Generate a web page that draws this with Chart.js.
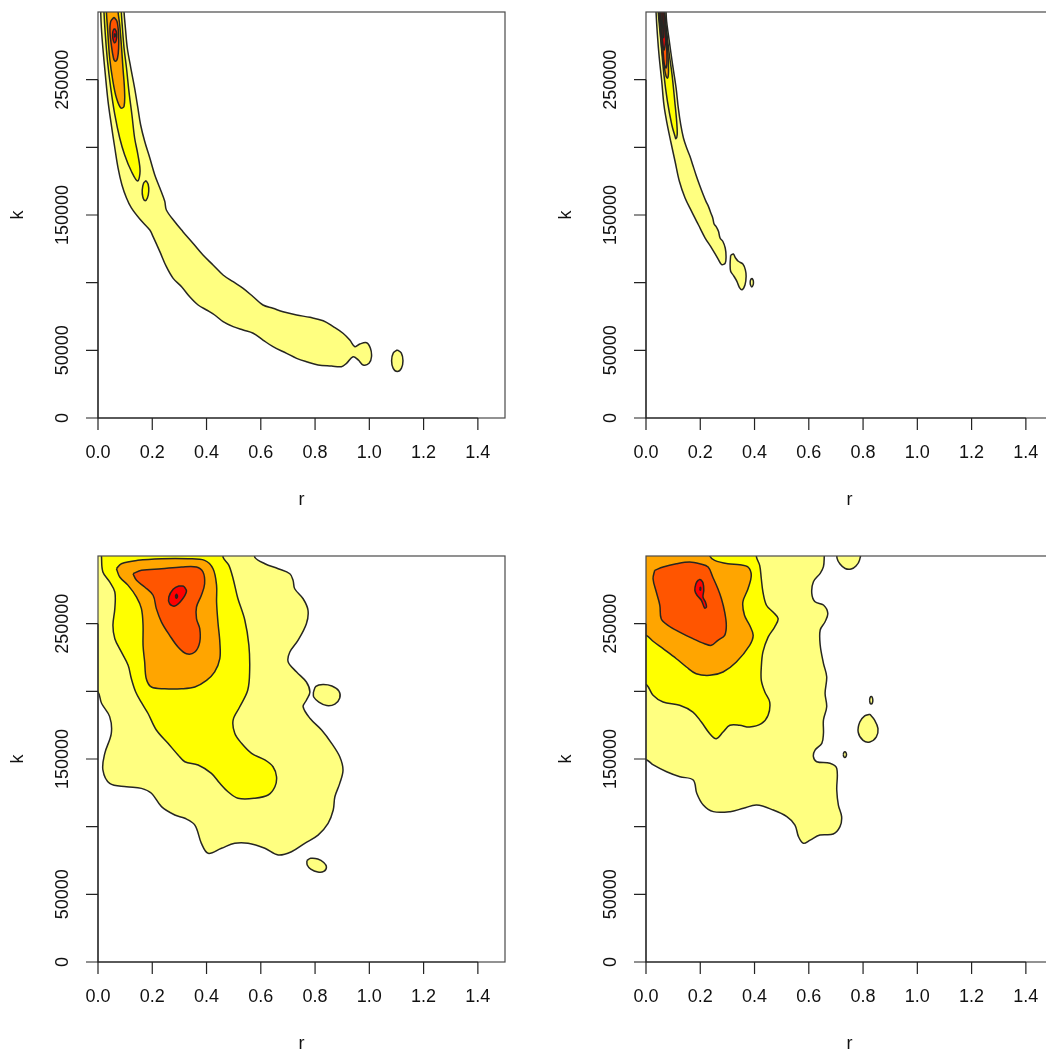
<!DOCTYPE html>
<html>
<head>
<meta charset="utf-8">
<title>r / k density contours</title>
<script src="https://cdn.jsdelivr.net/npm/chart.js@4.4.1/dist/chart.umd.min.js"></script>
<style>
  html, body { margin: 0; padding: 0; background: #fff; overflow: hidden; }
  #sheet { position: relative; width: 1046px; height: 1053px; overflow: hidden; }
  #sheet canvas { position: absolute; }
</style>
</head>
<body>
<div id="sheet">
  <canvas id="c1" width="548" height="544" style="left:0;top:0"></canvas>
  <canvas id="c2" width="548" height="544" style="left:548px;top:0"></canvas>
  <canvas id="c3" width="548" height="544" style="left:0;top:544px"></canvas>
  <canvas id="c4" width="548" height="544" style="left:548px;top:544px"></canvas>
</div>
<script>
// ── Axes ─────────────────────────────────────────────────────────────────────
const R_TICKS  = [0, 0.2, 0.4, 0.6, 0.8, 1.0, 1.2, 1.4];
const R_LABELS = ["0.0", "0.2", "0.4", "0.6", "0.8", "1.0", "1.2", "1.4"];
const K_TICKS  = [0, 50000, 100000, 150000, 200000, 250000];
const K_LABELS = [0, 50000, 150000, 250000];   // R drops the ones that would overlap
const R_RANGE  = [0, 1.5];
const K_RANGE  = [0, 300000];

// fill per contour level, lowest density first
const LEVEL_COLORS = ["#ffff80", "#ffff00", "#ffa500", "#ff5500", "#ff0000", "#8b0000"];

// ── Contours: [r, k] rings (k above 300000 / r below 0 run off the plot) ─────
// top left
const tlBand = [[0.010,305000],[0.010,300000],[0.0125,288200],[0.018,273400],[0.027,253700],[0.037,234000],[0.049,216700],[0.062,199500],[0.074,184700],[0.088,172400],[0.105,162600],[0.123,155200],[0.154,147000],[0.191,138900],[0.203,134000],[0.228,122900],[0.252,111800],[0.277,103200],[0.308,97000],[0.338,89600],[0.369,83500],[0.400,79800],[0.430,76100],[0.461,71200],[0.498,67500],[0.535,65000],[0.572,62600],[0.608,57600],[0.645,52700],[0.695,47800],[0.732,44100],[0.768,41600],[0.811,39200],[0.861,38400],[0.897,37900],[0.916,40400],[0.940,45300],[0.959,42900],[0.977,39200],[0.999,40400],[1.008,45300],[1.004,51500],[0.990,55600],[0.965,54700],[0.947,52700],[0.928,57600],[0.903,62600],[0.867,67500],[0.830,71900],[0.781,74400],[0.732,76100],[0.682,78500],[0.645,81100],[0.608,83500],[0.572,89600],[0.535,95800],[0.498,100700],[0.461,105700],[0.424,113100],[0.387,120400],[0.350,129100],[0.313,137700],[0.283,145000],[0.252,153700],[0.246,160100],[0.228,169900],[0.209,179800],[0.191,192100],[0.172,204500],[0.157,216700],[0.147,229100],[0.135,243800],[0.121,258600],[0.108,273400],[0.101,288200],[0.096,300000],[0.096,305000]];
const tlIsle = [[1.103,50300],[1.118,48000],[1.124,42300],[1.118,36600],[1.103,34300],[1.088,36600],[1.082,42300],[1.088,48000]];
const tlInner = [[0.022,305000],[0.022,300000],[0.027,283200],[0.035,263600],[0.047,243800],[0.062,224100],[0.080,206900],[0.098,194600],[0.123,182300],[0.146,175100],[0.155,182300],[0.147,194600],[0.135,206900],[0.125,224100],[0.114,241400],[0.105,258600],[0.096,273400],[0.090,288200],[0.086,300000],[0.086,305000]];
const tlSpeck = [[0.177,175400],[0.185,172500],[0.187,167500],[0.182,162500],[0.173,160600],[0.165,163500],[0.163,168500],[0.168,173500]];
const tlMid = [[0.031,305000],[0.031,300000],[0.035,288200],[0.043,266000],[0.055,248800],[0.068,236400],[0.084,229100],[0.096,230300],[0.098,241400],[0.092,258600],[0.086,275800],[0.080,290600],[0.074,300000],[0.074,305000]];
const tlCore = [[0.059,296100],[0.070,293100],[0.076,283200],[0.076,273400],[0.072,266000],[0.064,263600],[0.057,266000],[0.049,275800],[0.044,285700],[0.047,293100]];
const tlPeak = [[0.062,287700],[0.068,285200],[0.069,281300],[0.065,277800],[0.060,277300],[0.055,280300],[0.054,284500],[0.057,286900]];
const tlDot = [[0.060,282800],[0.062,284000],[0.064,282800],[0.062,281600]];

// top right
const trBand = [[0.037,305000],[0.037,300000],[0.042,283200],[0.049,266000],[0.058,248800],[0.066,231500],[0.076,219200],[0.091,204500],[0.107,189700],[0.123,174900],[0.144,162600],[0.168,152700],[0.193,142800],[0.218,133000],[0.242,125600],[0.267,117000],[0.279,113300],[0.292,114500],[0.295,119500],[0.292,125600],[0.283,130600],[0.273,133000],[0.267,138000],[0.258,141600],[0.251,143300],[0.246,147800],[0.239,151500],[0.230,156400],[0.221,160100],[0.211,165000],[0.197,172400],[0.184,179800],[0.172,187200],[0.162,193400],[0.150,199500],[0.138,206900],[0.128,216700],[0.119,229100],[0.111,243800],[0.098,261100],[0.086,278300],[0.076,293100],[0.074,300000],[0.074,305000]];
const trBlob = [[0.312,120200],[0.322,121200],[0.330,118200],[0.340,115800],[0.357,113800],[0.366,109600],[0.369,104700],[0.365,98500],[0.354,94800],[0.344,96600],[0.335,101000],[0.322,105400],[0.312,108400],[0.310,113800]];
const trSpeck = [[0.390,103400],[0.395,101800],[0.396,100100],[0.395,98400],[0.390,96800],[0.385,98400],[0.384,100100],[0.385,101800]];
const trInner = [[0.045,305000],[0.045,300000],[0.055,278300],[0.066,253700],[0.079,234000],[0.095,216700],[0.107,208100],[0.110,206400],[0.115,209300],[0.113,219200],[0.106,234000],[0.096,253700],[0.086,268400],[0.076,285700],[0.069,300000],[0.069,305000]];
const trMid = [[0.048,305000],[0.048,300000],[0.052,288200],[0.058,273400],[0.066,261100],[0.074,252500],[0.080,251200],[0.083,256200],[0.081,268400],[0.076,283200],[0.066,300000],[0.066,305000]];
const trCore = [[0.052,305000],[0.052,300000],[0.055,288200],[0.062,273400],[0.067,262300],[0.074,258600],[0.077,262300],[0.076,275800],[0.071,290600],[0.064,300000],[0.064,305000]];
const trPeak = [[0.055,305000],[0.055,300000],[0.057,290400],[0.061,279300],[0.066,271900],[0.072,277800],[0.070,290400],[0.068,300000],[0.068,305000]];
const trTip = [[0.059,305000],[0.059,300000],[0.062,288000],[0.065,281000],[0.067,290000],[0.066,300000],[0.066,305000]];

// bottom left
const blOuter = [[-0.02,305000],[0.578,305000],[0.578,299000],[0.615,294300],[0.664,290600],[0.707,286900],[0.719,282000],[0.725,275800],[0.756,268400],[0.774,259900],[0.768,250000],[0.737,237700],[0.707,229100],[0.701,221700],[0.732,214300],[0.768,206900],[0.781,199500],[0.768,193400],[0.756,188600],[0.781,180100],[0.824,171400],[0.861,161600],[0.891,151700],[0.903,141900],[0.891,132000],[0.873,122100],[0.867,112300],[0.848,102500],[0.811,93800],[0.762,87700],[0.713,81500],[0.664,79100],[0.615,84000],[0.553,87700],[0.504,87700],[0.455,84000],[0.406,80300],[0.381,87700],[0.357,101200],[0.320,106200],[0.283,108600],[0.234,114800],[0.197,124700],[0.160,128300],[0.105,129500],[0.043,132000],[0.018,141900],[0.025,154200],[0.049,169000],[0.043,181300],[0.013,191200],[0.000,199500],[-0.02,199500]];
const blIsleA = [[0.794,199500],[0.803,203600],[0.829,205000],[0.862,203900],[0.888,200200],[0.891,195100],[0.873,190600],[0.843,189500],[0.814,192100],[0.795,195800]];
const blIsleB = [[0.770,75000],[0.784,76600],[0.810,76100],[0.832,73500],[0.842,70200],[0.832,66900],[0.810,66500],[0.784,68700],[0.771,71700]];
const blYellow = [[0.013,305000],[0.013,299000],[0.018,288200],[0.043,280800],[0.062,273400],[0.062,261100],[0.055,248800],[0.062,238900],[0.086,229100],[0.111,219200],[0.123,209300],[0.139,199500],[0.161,191400],[0.184,183800],[0.215,171400],[0.258,161600],[0.295,153000],[0.320,148000],[0.369,145600],[0.418,139400],[0.449,132000],[0.479,125800],[0.516,121000],[0.578,121000],[0.627,123400],[0.652,129500],[0.658,136900],[0.645,144300],[0.615,149300],[0.566,154200],[0.529,161600],[0.504,169000],[0.498,178800],[0.522,188400],[0.552,201000],[0.559,215800],[0.556,234200],[0.541,252700],[0.515,269000],[0.498,283200],[0.482,293300],[0.461,299000],[0.461,305000]];
const blOrange = [[0.068,290600],[0.080,284500],[0.111,278300],[0.142,269700],[0.160,261100],[0.166,248800],[0.166,234000],[0.172,221700],[0.178,209300],[0.197,203200],[0.246,201900],[0.308,201900],[0.357,203200],[0.400,208100],[0.430,214300],[0.449,224100],[0.449,236400],[0.442,251200],[0.437,266000],[0.437,278300],[0.424,290600],[0.393,296800],[0.332,298000],[0.234,298000],[0.147,296800],[0.086,294300]];
const blRed = [[0.129,286900],[0.142,282000],[0.172,277100],[0.203,271000],[0.215,261100],[0.234,251200],[0.264,241400],[0.295,232800],[0.326,227800],[0.357,229100],[0.375,236400],[0.375,246300],[0.363,253700],[0.363,262300],[0.381,271000],[0.393,279500],[0.387,288200],[0.363,291900],[0.308,291900],[0.234,290600],[0.160,289400]];
const blPeak = [[0.317,277600],[0.326,273900],[0.308,267300],[0.283,263000],[0.264,264700],[0.261,269700],[0.277,275400],[0.298,277800]];
const blDot = [[0.285,270200],[0.289,271700],[0.293,270200],[0.289,268700]];

// bottom right
const brOuter = [[-0.02,305000],[0.657,305000],[0.657,300000],[0.654,292100],[0.642,287200],[0.617,281000],[0.611,272400],[0.623,266200],[0.654,263800],[0.670,257700],[0.660,251400],[0.642,245300],[0.642,234200],[0.654,220700],[0.666,210800],[0.660,198500],[0.666,188600],[0.654,178800],[0.654,169000],[0.648,161600],[0.623,156600],[0.617,151700],[0.629,148000],[0.678,146800],[0.703,143100],[0.703,127100],[0.709,116000],[0.721,107400],[0.715,100000],[0.690,94600],[0.641,93800],[0.605,90100],[0.580,87700],[0.562,92600],[0.549,101200],[0.519,107400],[0.469,112300],[0.408,116000],[0.359,113600],[0.310,111100],[0.248,111100],[0.211,116000],[0.187,124700],[0.174,134500],[0.125,136900],[0.076,140600],[0.027,145600],[0.003,149300],[-0.02,149500]];
const brCap = [[0.704,305000],[0.704,298500],[0.715,294100],[0.734,290800],[0.756,290400],[0.774,292600],[0.787,297000],[0.789,305000]];
const brEgg = [[0.825,183000],[0.843,178600],[0.855,172400],[0.849,166300],[0.825,162600],[0.800,163800],[0.782,169900],[0.788,177300],[0.806,181800]];
const brRingA = [[0.824,193400],[0.826,195500],[0.830,196200],[0.834,195500],[0.836,193400],[0.834,191300],[0.830,190600],[0.826,191300]];
const brRingB = [[0.727,153300],[0.729,154800],[0.733,155400],[0.737,154800],[0.739,153300],[0.737,151800],[0.733,151200],[0.729,151800]];
const brYellow = [[-0.02,305000],[-0.02,206000],[0.003,204700],[0.026,197100],[0.063,192100],[0.124,189700],[0.173,184700],[0.204,177300],[0.235,168700],[0.259,165000],[0.284,169900],[0.309,174900],[0.345,174900],[0.382,173600],[0.425,176100],[0.450,182300],[0.456,192100],[0.438,199500],[0.425,208100],[0.425,218000],[0.431,229100],[0.450,240100],[0.474,247500],[0.487,253700],[0.468,258600],[0.444,263600],[0.431,273400],[0.425,283200],[0.419,293100],[0.407,299300],[0.407,305000]];
const brOrange = [[-0.02,305000],[-0.02,241400],[0.001,241400],[0.026,237000],[0.063,231500],[0.112,224100],[0.149,218000],[0.185,213000],[0.235,211800],[0.284,214300],[0.333,221700],[0.382,234000],[0.395,241400],[0.382,248800],[0.363,256200],[0.357,266000],[0.376,275800],[0.388,285700],[0.376,291900],[0.346,293600],[0.302,294300],[0.253,296800],[0.235,300000],[0.235,305000]];
const brOrangeRing = [[0.223,227600],[0.225,229800],[0.230,230500],[0.235,229800],[0.237,227600],[0.235,225400],[0.230,224700],[0.225,225400]];
const brRed = [[0.032,289400],[0.026,283200],[0.038,273400],[0.051,263600],[0.056,253700],[0.081,248800],[0.124,243800],[0.173,238900],[0.216,235200],[0.241,234000],[0.265,237700],[0.290,241400],[0.296,248800],[0.290,258600],[0.278,268400],[0.265,275800],[0.246,284500],[0.229,291900],[0.198,294300],[0.161,295600],[0.112,294300],[0.063,291900]];
const brPeak = [[0.200,282800],[0.210,280300],[0.213,274600],[0.210,269700],[0.219,266000],[0.223,262300],[0.216,261600],[0.204,267300],[0.188,271000],[0.180,274600],[0.184,279500],[0.192,282000]];
const brDot = [[0.198,275800],[0.200,277000],[0.202,275800],[0.200,274600]];

// ring list per panel: [ring, contour level]
const PANELS = {
  c1: [[tlBand,0],[tlIsle,0],[tlInner,1],[tlSpeck,1],[tlMid,2],[tlCore,3],[tlPeak,4],[tlDot,5]],
  c2: [[trBand,0],[trBlob,0],[trSpeck,0],[trInner,1],[trMid,2],[trCore,3],[trPeak,4],[trTip,5]],
  c3: [[blOuter,0],[blIsleA,0],[blIsleB,0],[blYellow,1],[blOrange,2],[blRed,3],[blPeak,4],[blDot,5]],
  c4: [[brOuter,0],[brCap,0],[brEgg,0],[brRingA,0],[brRingB,0],[brYellow,1],[brOrange,2],[brOrangeRing,2],[brRed,3],[brPeak,4],[brDot,5]],
};

// ── Helpers ──────────────────────────────────────────────────────────────────
const FONT = '18px "Liberation Sans", Arial, Helvetica, sans-serif';

function ringDataset([ring, level]) {
  const pts = ring.concat([ring[0]]).map(([r, k]) => ({ x: r, y: k }));
  return {
    data: pts,
    showLine: true,
    fill: "shape",
    backgroundColor: LEVEL_COLORS[level],
    borderColor: "#262622",
    borderWidth: 1.5,
    pointRadius: 0,
    tension: 0.35,
    capBezierPoints: false,
    clip: 0,
    order: 10 - level,   // outer levels underneath
  };
}

// R-style frame: box, outward ticks, rotated k labels
const baseAxes = {
  id: "baseAxes",
  afterDraw(chart) {
    const { ctx, chartArea: a, scales: { x, y } } = chart;
    ctx.save();
    ctx.lineWidth = 1.2;
    ctx.strokeStyle = "#4a4a4a";
    ctx.strokeRect(a.left, a.top, a.right - a.left, a.bottom - a.top);

    ctx.strokeStyle = "#222";
    ctx.beginPath();
    const x0 = x.getPixelForValue(R_TICKS[0]), x1 = x.getPixelForValue(R_TICKS[R_TICKS.length - 1]);
    ctx.moveTo(x0, a.bottom); ctx.lineTo(x1, a.bottom);
    for (const v of R_TICKS) {
      const px = x.getPixelForValue(v);
      ctx.moveTo(px, a.bottom); ctx.lineTo(px, a.bottom + 12);
    }
    const y0 = y.getPixelForValue(K_TICKS[0]), y1 = y.getPixelForValue(K_TICKS[K_TICKS.length - 1]);
    ctx.moveTo(a.left, y0); ctx.lineTo(a.left, y1);
    for (const v of K_TICKS) {
      const py = y.getPixelForValue(v);
      ctx.moveTo(a.left, py); ctx.lineTo(a.left - 12, py);
    }
    ctx.stroke();

    ctx.fillStyle = "#111";
    ctx.font = FONT;
    ctx.textAlign = "center";
    ctx.textBaseline = "middle";
    R_TICKS.forEach((v, i) => ctx.fillText(R_LABELS[i], x.getPixelForValue(v), a.bottom + 35));
    ctx.fillText("r", (a.left + a.right) / 2, a.bottom + 82);

    const vertical = (text, px, py) => {
      ctx.save();
      ctx.translate(px, py);
      ctx.rotate(-Math.PI / 2);
      ctx.fillText(text, 0, 0);
      ctx.restore();
    };
    for (const v of K_LABELS) vertical(String(v), a.left - 35, y.getPixelForValue(v));
    vertical("k", a.left - 80, (a.top + a.bottom) / 2);
    ctx.restore();
  },
};

function buildPanel(canvasId) {
  return new Chart(document.getElementById(canvasId), {
    type: "scatter",
    data: { datasets: PANELS[canvasId].map(ringDataset) },
    options: {
      responsive: false,
      animation: false,
      events: [],
      devicePixelRatio: 1,
      layout: { padding: { left: 98, right: 43, top: 12, bottom: 126 } },
      plugins: { legend: { display: false }, tooltip: { enabled: false } },
      scales: {
        x: { type: "linear", min: R_RANGE[0], max: R_RANGE[1], display: false },
        y: { type: "linear", min: K_RANGE[0], max: K_RANGE[1], display: false },
      },
    },
    plugins: [baseAxes],
  });
}

// ── Init ──────────────────────────────────────────────────────────────────────
Object.keys(PANELS).forEach(buildPanel);
</script>
</body>
</html>
